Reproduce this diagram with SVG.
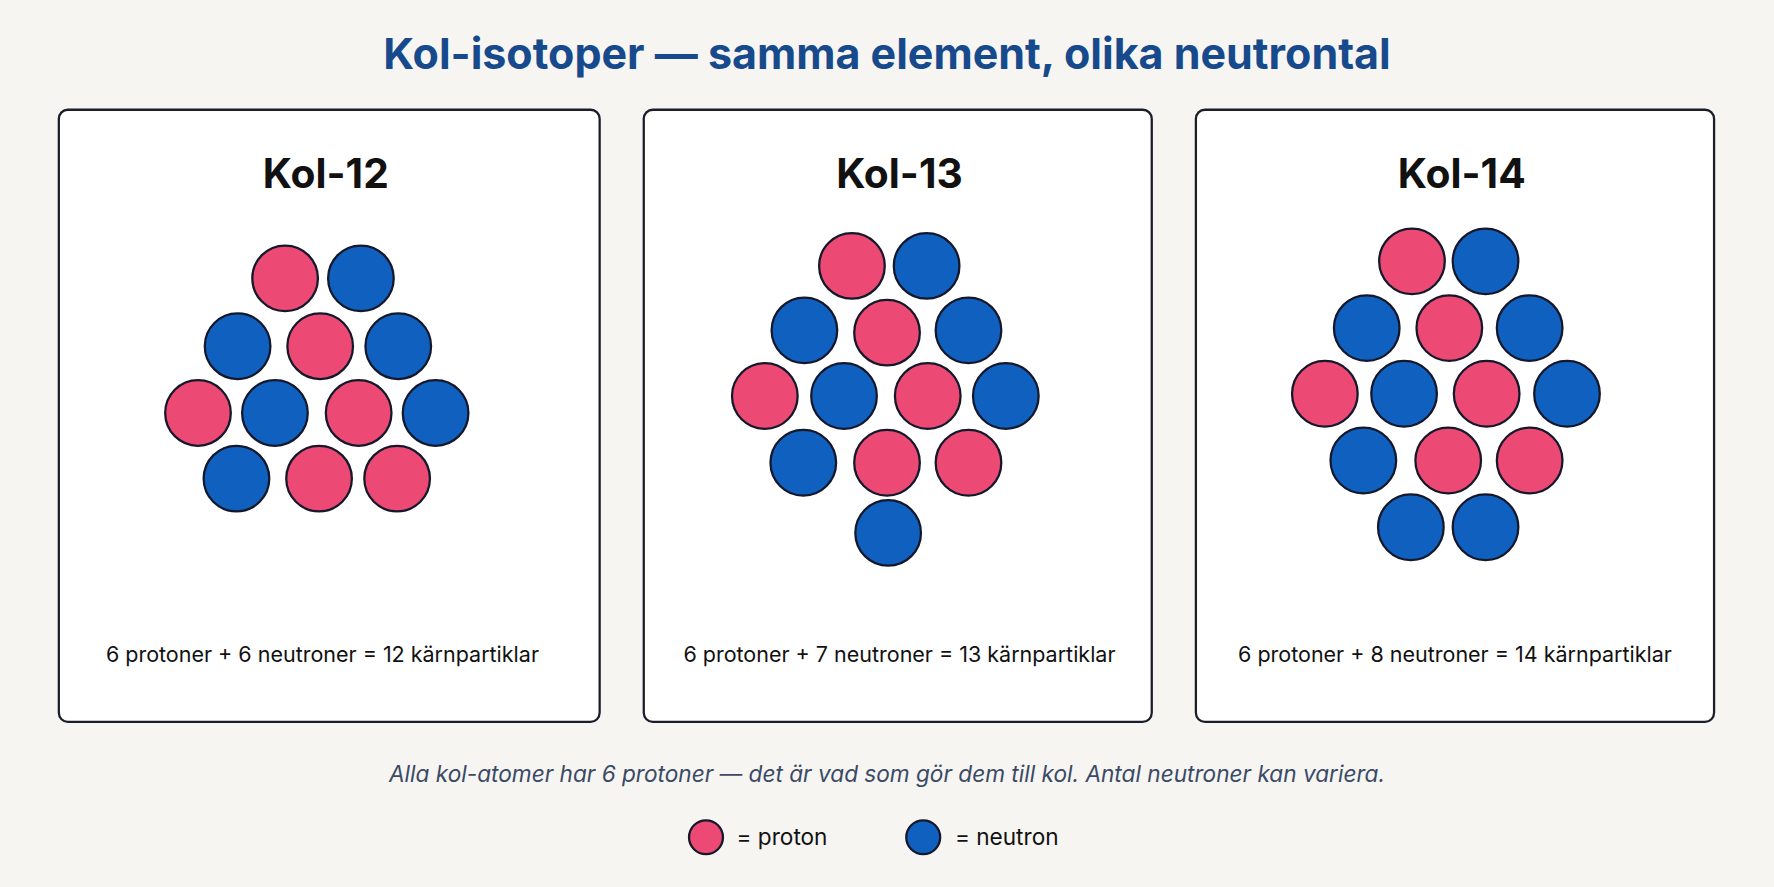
<svg xmlns="http://www.w3.org/2000/svg" width="1774" height="887" viewBox="0 0 1774 887">
<style>
.panel{fill:#fff;stroke:#1b1d2a;stroke-width:2}
.p{fill:#ec4a74;stroke:#15182a;stroke-width:2}
.n{fill:#1060c0;stroke:#15182a;stroke-width:2}
text{font-family:Inter,"Liberation Sans",sans-serif}
.h{font-size:36px;font-weight:700;fill:#111;text-anchor:middle}
.c{font-size:19px;fill:#111;text-anchor:middle}
.l{font-size:20px;fill:#111}
</style>
<rect width="1774" height="887" fill="#f7f5f1"/>
<g transform="scale(1.1314)">
<text x="784" y="61" text-anchor="middle" style="font-size:38px;font-weight:700;fill:#174a8c">Kol-isotoper — samma element, olika neutrontal</text>
<g id="kol12">
<rect class="panel" x="52" y="97" width="478" height="541" rx="8"/>
<text class="h" x="288" y="166">Kol-12</text>
<circle class="p" cx="252" cy="246" r="29"/><circle class="n" cx="319" cy="246" r="29"/>
<circle class="n" cx="210" cy="306" r="29"/><circle class="p" cx="283" cy="306" r="29"/><circle class="n" cx="352" cy="306" r="29"/>
<circle class="p" cx="175" cy="365" r="29"/><circle class="n" cx="243" cy="365" r="29"/><circle class="p" cx="317" cy="365" r="29"/><circle class="n" cx="385" cy="365" r="29"/>
<circle class="n" cx="209" cy="423" r="29"/><circle class="p" cx="282" cy="423" r="29"/><circle class="p" cx="351" cy="423" r="29"/>
<text class="c" x="285" y="585">6 protoner + 6 neutroner = 12 kärnpartiklar</text>
</g>
<g id="kol13">
<rect class="panel" x="569" y="97" width="449" height="541" rx="8"/>
<text class="h" x="795" y="166">Kol-13</text>
<circle class="p" cx="753" cy="235" r="29"/><circle class="n" cx="819" cy="235" r="29"/>
<circle class="n" cx="711" cy="292" r="29"/><circle class="p" cx="784" cy="294" r="29"/><circle class="n" cx="856" cy="292" r="29"/>
<circle class="p" cx="676" cy="350" r="29"/><circle class="n" cx="746" cy="350" r="29"/><circle class="p" cx="820" cy="350" r="29"/><circle class="n" cx="889" cy="350" r="29"/>
<circle class="n" cx="710" cy="409" r="29"/><circle class="p" cx="784" cy="409" r="29"/><circle class="p" cx="856" cy="409" r="29"/>
<circle class="n" cx="785" cy="471" r="29"/>
<text class="c" x="795" y="585">6 protoner + 7 neutroner = 13 kärnpartiklar</text>
</g>
<g id="kol14">
<rect class="panel" x="1057" y="97" width="458" height="541" rx="8"/>
<text class="h" x="1292" y="166">Kol-14</text>
<circle class="p" cx="1248" cy="231" r="29"/><circle class="n" cx="1313" cy="231" r="29"/>
<circle class="n" cx="1208" cy="290" r="29"/><circle class="p" cx="1281" cy="290" r="29"/><circle class="n" cx="1352" cy="290" r="29"/>
<circle class="p" cx="1171" cy="348" r="29"/><circle class="n" cx="1241" cy="348" r="29"/><circle class="p" cx="1314" cy="348" r="29"/><circle class="n" cx="1385" cy="348" r="29"/>
<circle class="n" cx="1205" cy="407" r="29"/><circle class="p" cx="1280" cy="407" r="29"/><circle class="p" cx="1352" cy="407" r="29"/>
<circle class="n" cx="1247" cy="466" r="29"/><circle class="n" cx="1313" cy="466" r="29"/>
<text class="c" x="1286" y="585">6 protoner + 8 neutroner = 14 kärnpartiklar</text>
</g>
<text x="784" y="691" text-anchor="middle" style="font-size:20px;font-style:italic;fill:#3a4a66">Alla kol-atomer har 6 protoner — det är vad som gör dem till kol. Antal neutroner kan variera.</text>
<g id="legend">
<circle class="p" cx="624" cy="740" r="15"/><text class="l" x="651" y="747">= proton</text>
<circle class="n" cx="816" cy="740" r="15"/><text class="l" x="844" y="747">= neutron</text>
</g>
</g>
</svg>
